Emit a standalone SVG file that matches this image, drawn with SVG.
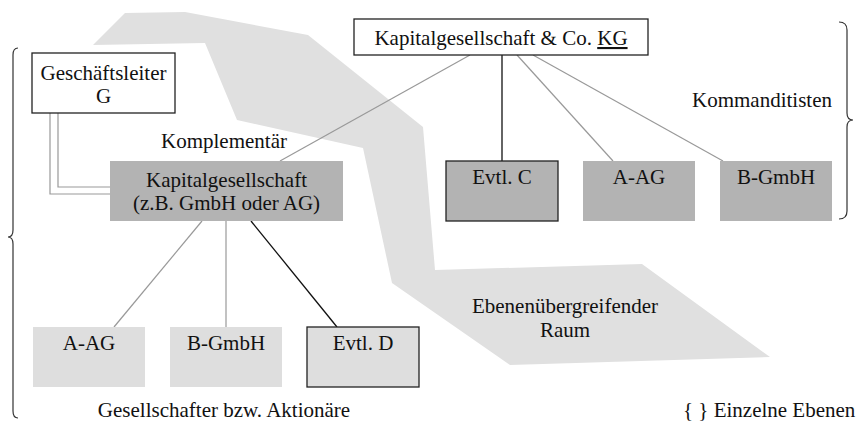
<svg xmlns="http://www.w3.org/2000/svg" width="856" height="423" viewBox="0 0 856 423" font-family="'Liberation Serif', 'DejaVu Serif', serif">
<style>
text{font-family:'Liberation Serif','DejaVu Serif',serif;font-size:21px;fill:#111;text-anchor:middle}
.dark{fill:#b3b3b3}
.light{fill:#dedede}
.bord{stroke:#222;stroke-width:1.3}
.gl{stroke:#999;stroke-width:1.2;fill:none}
.bl{stroke:#111;stroke-width:1.3;fill:none}
.brace{stroke:#333;stroke-width:1.2;fill:none}
</style>
<rect width="856" height="423" fill="#fff"/>
<g id="band">
<polygon points="93,45 125,13 185,12 308,35 423,127 435,270 642,264 770,357 510,365 392,283 363,148 237,120 205,43" fill="#e0e0e0"/>
<text x="565" y="313">Ebenenübergreifender</text>
<text x="565" y="337">Raum</text>
</g>
<g id="connectors">
<line class="gl" x1="470" y1="55" x2="280" y2="161"/>
<line class="bl" x1="502" y1="55" x2="502" y2="161"/>
<line class="gl" x1="517" y1="55" x2="613" y2="161"/>
<line class="gl" x1="533" y1="55" x2="723" y2="161"/>
<line class="gl" x1="202" y1="221" x2="114" y2="327"/>
<line class="gl" x1="226" y1="221" x2="226" y2="327"/>
<line class="bl" x1="251" y1="221" x2="337" y2="327"/>
<path class="gl" d="M50,113 V194 H110"/>
<path class="gl" d="M58,113 V187 H110"/>
</g>
<g id="kg">
<rect x="354" y="19" width="294" height="36" fill="#fff" class="bord"/>
<text x="501" y="45">Kapitalgesellschaft &amp; Co. <tspan text-decoration="underline">KG</tspan></text>
</g>
<g id="geschaeftsleiter">
<rect x="32" y="53" width="143" height="60" fill="#fff" class="bord"/>
<text x="103.5" y="80">Geschäftsleiter</text>
<text x="103.5" y="103">G</text>
</g>
<g id="komplementaer-label"><text x="224" y="148">Komplementär</text></g>
<g id="kapitalgesellschaft">
<rect x="110" y="161" width="233" height="60" class="dark"/>
<text x="226.5" y="187">Kapitalgesellschaft</text>
<text x="226.5" y="210">(z.B. GmbH oder AG)</text>
</g>
<g id="evtl-c">
<rect x="446" y="161" width="112" height="60" class="dark bord"/>
<text x="502" y="184">Evtl. C</text>
</g>
<g id="a-ag-top">
<rect x="583" y="161" width="112" height="60" class="dark"/>
<text x="639" y="184">A-AG</text>
</g>
<g id="b-gmbh-top">
<rect x="720" y="161" width="112" height="60" class="dark"/>
<text x="776" y="184">B-GmbH</text>
</g>
<g id="kommanditisten-label"><text x="762" y="107">Kommanditisten</text></g>
<g id="a-ag-bottom">
<rect x="33" y="327" width="112" height="60" class="light"/>
<text x="89" y="350">A-AG</text>
</g>
<g id="b-gmbh-bottom">
<rect x="170" y="327" width="112" height="60" class="light"/>
<text x="226" y="350">B-GmbH</text>
</g>
<g id="evtl-d">
<rect x="307" y="327" width="112" height="60" class="light bord"/>
<text x="363" y="350">Evtl. D</text>
</g>
<g id="gesellschafter-label"><text x="224" y="417">Gesellschafter bzw. Aktionäre</text></g>
<g id="braces">
<path class="brace" d="M18,48 Q13,48 13,55 L13,230 Q13,237 8,237 Q13,237 13,244 L13,411 Q13,418 18,418"/>
<path class="brace" d="M839,22 Q847,22 847,30 L847,113 Q847,120 853,120 Q847,120 847,127 L847,211 Q847,219 839,219"/>
</g>
<g id="legend"><text x="683" y="417" style="text-anchor:start">{ } Einzelne Ebenen</text></g>
</svg>
